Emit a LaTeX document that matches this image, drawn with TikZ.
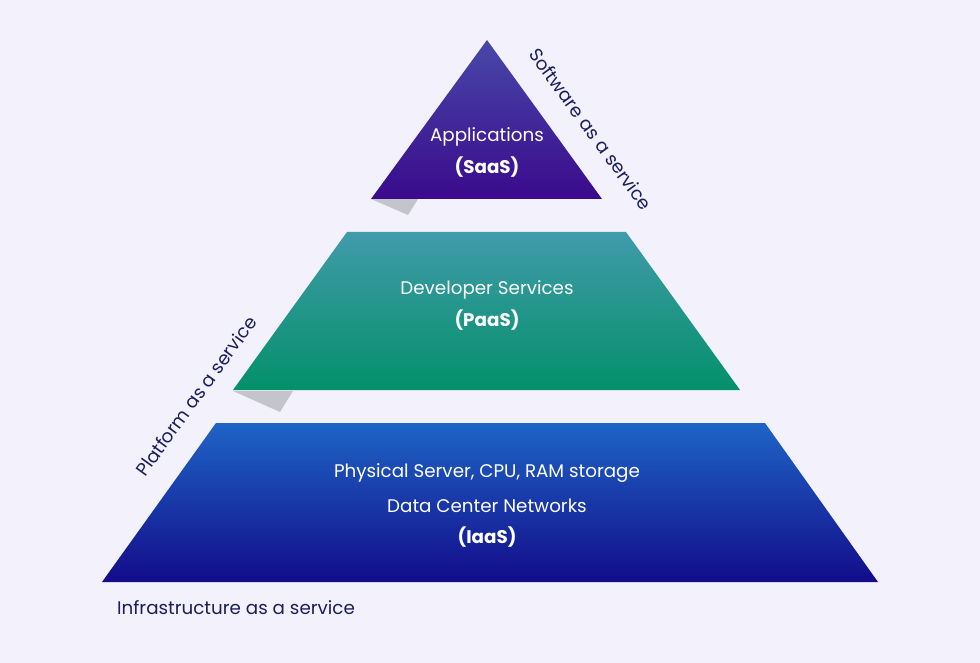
\documentclass[tikz,border=0pt]{standalone}
\usepackage{fontspec}
\setmainfont{Poppins}
\usetikzlibrary{positioning}
\definecolor{bgcol}{HTML}{F3F2FC}
\definecolor{inkcol}{HTML}{1B1F5C}
\definecolor{shadowcol}{HTML}{C4C4CC}
\definecolor{saastop}{HTML}{4848A8}
\definecolor{saasbot}{HTML}{3A0A8C}
\definecolor{paastop}{HTML}{409BAA}
\definecolor{paasbot}{HTML}{04906A}
\definecolor{iaastop}{HTML}{1E64C6}
\definecolor{iaasbot}{HTML}{130C8A}
\tikzset{
  layertext/.style={text=white,font=\fontsize{18.3}{21}\selectfont,inner sep=0pt},
  sidetext/.style={text=inkcol,font=\fontsize{18.3}{21}\selectfont,inner sep=0pt},
}
\begin{document}
\begin{tikzpicture}[x=1pt,y=-1pt]
            \fill[bgcol] (0,0) rectangle (980,663);
            \useasboundingbox (0,0) rectangle (980,663);
            % shadows
            \fill[shadowcol] (371,199) -- (418,199) -- (408,215) -- cycle;
            \fill[shadowcol] (233,391) -- (293,391) -- (280,412) -- cycle;
            % layers
            \shade[top color=saastop,bottom color=saasbot] (487,40) coordinate (S1) -- (602,199) coordinate (S2) -- (371,199) coordinate (S3) -- cycle;
            \shade[top color=paastop,bottom color=paasbot] (347,232) coordinate (P1) -- (626,232) coordinate (P2) -- (740,390) coordinate (P3) -- (233,390) coordinate (P4) -- cycle;
            \shade[top color=iaastop,bottom color=iaasbot] (216,423) coordinate (I1) -- (765,423) coordinate (I2) -- (878,582) coordinate (I3) -- (102,582) coordinate (I4) -- cycle;
            % texts
            \node[layertext] (apps) at (487,137) {Applications};
            \node[layertext,below=30pt of apps.center,anchor=center] (saas) {\textbf{(SaaS)}};
            \node[layertext] (dev) at (487,290) {Developer Services};
            \node[layertext,below=30pt of dev.center,anchor=center] (paas) {\textbf{(PaaS)}};
            \node[layertext] (phys) at (487,473) {Physical Server, CPU, RAM storage};
            \node[layertext,below=33pt of phys.center,anchor=center] (dcn) {Data Center Networks};
            \node[layertext,below=31pt of dcn.center,anchor=center] (iaas) {\textbf{(IaaS)}};
            \node[sidetext,rotate=-54] (saaslabel) at (591,129) {Software as a service};
            \node[sidetext,rotate=54] (paaslabel) at (196,396) {Platform as a service};
            \node[sidetext,anchor=west] (iaaslabel) at (117,608) {Infrastructure as a service};
        \end{tikzpicture}
\end{document}
